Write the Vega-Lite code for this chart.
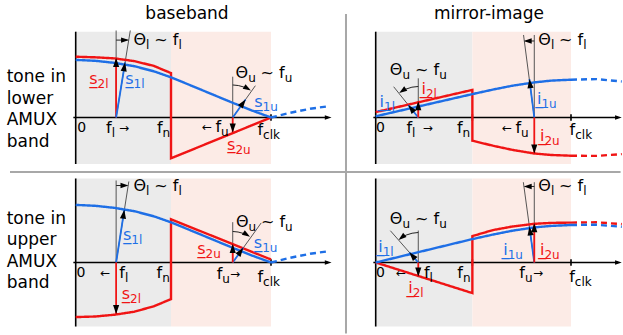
{
  "$schema": "https://vega.github.io/schema/vega-lite/v6.json",
  "autosize": {"type": "pad"},
  "padding": 0,
  "config": {"view": {"stroke": null}, "font": "DejaVu Sans"},
  "data": {"values": [
    {"r":"lo","c":"bb","k":"frame","x":-0.3876,"x2":2.8024,"y":1.9583,"y2":-3.625},

    {"r":"lo","c":"bb","k":"band","band":"low","x":0,"x2":0.488,"y":1.43,"y2":-0.775},
    {"r":"lo","c":"bb","k":"band","band":"high","x":0.488,"x2":1,"y":1.43,"y2":-0.775},
    {"r":"lo","c":"mi","k":"band","band":"low","x":0,"x2":0.495,"y":1.43,"y2":-0.775},
    {"r":"lo","c":"mi","k":"band","band":"high","x":0.495,"x2":1,"y":1.43,"y2":-0.775},
    {"r":"up","c":"bb","k":"band","band":"low","x":0,"x2":0.488,"y":1.4,"y2":-1.067},
    {"r":"up","c":"bb","k":"band","band":"high","x":0.488,"x2":1,"y":1.4,"y2":-1.067},
    {"r":"up","c":"mi","k":"band","band":"low","x":0,"x2":0.495,"y":1.4,"y2":-1.067},
    {"r":"up","c":"mi","k":"band","band":"high","x":0.495,"x2":1,"y":1.4,"y2":-1.067},

    {"r":"lo","c":"bb","k":"sep","x":-0.3364,"y":-0.908,"x2":2.79,"y2":-0.908},
    {"r":"lo","c":"bb","k":"sep","x":1.384,"y":1.725,"x2":1.384,"y2":-3.6},

    {"r":"lo","c":"bb","k":"axis","x":0,"y":1.43,"x2":0,"y2":-0.775},
    {"r":"lo","c":"bb","k":"axis","x":-0.012,"y":0,"x2":1.29,"y2":0},
    {"r":"lo","c":"bb","k":"axis","x":0.488,"y":0.055,"x2":0.488,"y2":-0.055},
    {"r":"lo","c":"bb","k":"axis","x":1,"y":0.055,"x2":1,"y2":-0.055},
    {"r":"lo","c":"mi","k":"axis","x":0,"y":1.43,"x2":0,"y2":-0.775},
    {"r":"lo","c":"mi","k":"axis","x":-0.012,"y":0,"x2":1.24,"y2":0},
    {"r":"lo","c":"mi","k":"axis","x":0.495,"y":0.055,"x2":0.495,"y2":-0.055},
    {"r":"lo","c":"mi","k":"axis","x":1,"y":0.055,"x2":1,"y2":-0.055},
    {"r":"up","c":"bb","k":"axis","x":0,"y":1.4,"x2":0,"y2":-1.067},
    {"r":"up","c":"bb","k":"axis","x":-0.012,"y":0,"x2":1.29,"y2":0},
    {"r":"up","c":"bb","k":"axis","x":0.488,"y":0.055,"x2":0.488,"y2":-0.055},
    {"r":"up","c":"bb","k":"axis","x":1,"y":0.055,"x2":1,"y2":-0.055},
    {"r":"up","c":"mi","k":"axis","x":0,"y":1.4,"x2":0,"y2":-1.067},
    {"r":"up","c":"mi","k":"axis","x":-0.012,"y":0,"x2":1.24,"y2":0},
    {"r":"up","c":"mi","k":"axis","x":0.495,"y":0.055,"x2":0.495,"y2":-0.055},
    {"r":"up","c":"mi","k":"axis","x":1,"y":0.055,"x2":1,"y2":-0.055},
    {"r":"lo","c":"bb","k":"head","h":"ax","x":1.31,"y":0,"bx":1.2,"by":0},
    {"r":"lo","c":"mi","k":"head","h":"ax","x":1.26,"y":0,"bx":1.15,"by":0},
    {"r":"up","c":"bb","k":"head","h":"ax","x":1.31,"y":0,"bx":1.2,"by":0},
    {"r":"up","c":"mi","k":"head","h":"ax","x":1.26,"y":0,"bx":1.15,"by":0},

    {"r":"lo","c":"bb","k":"curve","id":"s2","tone":"2","st":"solid","i":0,"x":0,"y":1.013},
    {"r":"lo","c":"bb","k":"curve","id":"s2","tone":"2","st":"solid","i":1,"x":0.1,"y":1.003},
    {"r":"lo","c":"bb","k":"curve","id":"s2","tone":"2","st":"solid","i":2,"x":0.2,"y":0.985},
    {"r":"lo","c":"bb","k":"curve","id":"s2","tone":"2","st":"solid","i":3,"x":0.3,"y":0.94},
    {"r":"lo","c":"bb","k":"curve","id":"s2","tone":"2","st":"solid","i":4,"x":0.4,"y":0.86},
    {"r":"lo","c":"bb","k":"curve","id":"s2","tone":"2","st":"solid","i":5,"x":0.488,"y":0.74},
    {"r":"lo","c":"bb","k":"curve","id":"s2","tone":"2","st":"solid","i":6,"x":0.488,"y":-0.68},
    {"r":"lo","c":"bb","k":"curve","id":"s2","tone":"2","st":"solid","i":7,"x":1,"y":0},
    {"r":"lo","c":"bb","k":"curve","id":"s1","tone":"1","st":"solid","i":0,"x":0,"y":0.96},
    {"r":"lo","c":"bb","k":"curve","id":"s1","tone":"1","st":"solid","i":1,"x":0.1,"y":0.945},
    {"r":"lo","c":"bb","k":"curve","id":"s1","tone":"1","st":"solid","i":2,"x":0.2,"y":0.91},
    {"r":"lo","c":"bb","k":"curve","id":"s1","tone":"1","st":"solid","i":3,"x":0.3,"y":0.855},
    {"r":"lo","c":"bb","k":"curve","id":"s1","tone":"1","st":"solid","i":4,"x":0.4,"y":0.77},
    {"r":"lo","c":"bb","k":"curve","id":"s1","tone":"1","st":"solid","i":5,"x":0.488,"y":0.67},
    {"r":"lo","c":"bb","k":"curve","id":"s1","tone":"1","st":"solid","i":6,"x":0.6,"y":0.52},
    {"r":"lo","c":"bb","k":"curve","id":"s1","tone":"1","st":"solid","i":7,"x":0.7,"y":0.385},
    {"r":"lo","c":"bb","k":"curve","id":"s1","tone":"1","st":"solid","i":8,"x":0.8,"y":0.25},
    {"r":"lo","c":"bb","k":"curve","id":"s1","tone":"1","st":"solid","i":9,"x":0.9,"y":0.12},
    {"r":"lo","c":"bb","k":"curve","id":"s1","tone":"1","st":"solid","i":10,"x":1,"y":0},
    {"r":"lo","c":"bb","k":"curve","id":"s1x","tone":"1","st":"dash","i":0,"x":1,"y":0},
    {"r":"lo","c":"bb","k":"curve","id":"s1x","tone":"1","st":"dash","i":1,"x":1.1,"y":0.08},
    {"r":"lo","c":"bb","k":"curve","id":"s1x","tone":"1","st":"dash","i":2,"x":1.2,"y":0.145},
    {"r":"lo","c":"bb","k":"curve","id":"s1x","tone":"1","st":"dash","i":3,"x":1.3,"y":0.19},

    {"r":"up","c":"bb","k":"curve","id":"s2","tone":"2","st":"solid","i":0,"x":0,"y":-0.91},
    {"r":"up","c":"bb","k":"curve","id":"s2","tone":"2","st":"solid","i":1,"x":0.1,"y":-0.9},
    {"r":"up","c":"bb","k":"curve","id":"s2","tone":"2","st":"solid","i":2,"x":0.2,"y":-0.87},
    {"r":"up","c":"bb","k":"curve","id":"s2","tone":"2","st":"solid","i":3,"x":0.3,"y":-0.82},
    {"r":"up","c":"bb","k":"curve","id":"s2","tone":"2","st":"solid","i":4,"x":0.4,"y":-0.73},
    {"r":"up","c":"bb","k":"curve","id":"s2","tone":"2","st":"solid","i":5,"x":0.488,"y":-0.61},
    {"r":"up","c":"bb","k":"curve","id":"s2","tone":"2","st":"solid","i":6,"x":0.488,"y":0.72},
    {"r":"up","c":"bb","k":"curve","id":"s2","tone":"2","st":"solid","i":7,"x":1,"y":0.05},
    {"r":"up","c":"bb","k":"curve","id":"s1","tone":"1","st":"solid","i":0,"x":0,"y":0.96},
    {"r":"up","c":"bb","k":"curve","id":"s1","tone":"1","st":"solid","i":1,"x":0.1,"y":0.945},
    {"r":"up","c":"bb","k":"curve","id":"s1","tone":"1","st":"solid","i":2,"x":0.2,"y":0.91},
    {"r":"up","c":"bb","k":"curve","id":"s1","tone":"1","st":"solid","i":3,"x":0.3,"y":0.855},
    {"r":"up","c":"bb","k":"curve","id":"s1","tone":"1","st":"solid","i":4,"x":0.4,"y":0.77},
    {"r":"up","c":"bb","k":"curve","id":"s1","tone":"1","st":"solid","i":5,"x":0.488,"y":0.67},
    {"r":"up","c":"bb","k":"curve","id":"s1","tone":"1","st":"solid","i":6,"x":0.6,"y":0.52},
    {"r":"up","c":"bb","k":"curve","id":"s1","tone":"1","st":"solid","i":7,"x":0.7,"y":0.385},
    {"r":"up","c":"bb","k":"curve","id":"s1","tone":"1","st":"solid","i":8,"x":0.8,"y":0.25},
    {"r":"up","c":"bb","k":"curve","id":"s1","tone":"1","st":"solid","i":9,"x":0.9,"y":0.12},
    {"r":"up","c":"bb","k":"curve","id":"s1","tone":"1","st":"solid","i":10,"x":1,"y":0},
    {"r":"up","c":"bb","k":"curve","id":"s1x","tone":"1","st":"dash","i":0,"x":1,"y":0},
    {"r":"up","c":"bb","k":"curve","id":"s1x","tone":"1","st":"dash","i":1,"x":1.1,"y":0.08},
    {"r":"up","c":"bb","k":"curve","id":"s1x","tone":"1","st":"dash","i":2,"x":1.2,"y":0.145},
    {"r":"up","c":"bb","k":"curve","id":"s1x","tone":"1","st":"dash","i":3,"x":1.3,"y":0.19},

    {"r":"lo","c":"mi","k":"curve","id":"i2","tone":"2","st":"solid","i":0,"x":0,"y":0.09},
    {"r":"lo","c":"mi","k":"curve","id":"i2","tone":"2","st":"solid","i":1,"x":0.495,"y":0.46},
    {"r":"lo","c":"mi","k":"curve","id":"i2","tone":"2","st":"solid","i":2,"x":0.495,"y":-0.387},
    {"r":"lo","c":"mi","k":"curve","id":"i2","tone":"2","st":"solid","i":3,"x":0.6,"y":-0.47},
    {"r":"lo","c":"mi","k":"curve","id":"i2","tone":"2","st":"solid","i":4,"x":0.7,"y":-0.54},
    {"r":"lo","c":"mi","k":"curve","id":"i2","tone":"2","st":"solid","i":5,"x":0.812,"y":-0.6},
    {"r":"lo","c":"mi","k":"curve","id":"i2","tone":"2","st":"solid","i":6,"x":0.9,"y":-0.625},
    {"r":"lo","c":"mi","k":"curve","id":"i2","tone":"2","st":"solid","i":7,"x":1,"y":-0.637},
    {"r":"lo","c":"mi","k":"curve","id":"i2x","tone":"2","st":"dash","i":0,"x":1,"y":-0.637},
    {"r":"lo","c":"mi","k":"curve","id":"i2x","tone":"2","st":"dash","i":1,"x":1.13,"y":-0.64},
    {"r":"lo","c":"mi","k":"curve","id":"i2x","tone":"2","st":"dash","i":2,"x":1.26,"y":-0.61},
    {"r":"lo","c":"mi","k":"curve","id":"i1","tone":"1","st":"solid","i":0,"x":0,"y":0.02},
    {"r":"lo","c":"mi","k":"curve","id":"i1","tone":"1","st":"solid","i":1,"x":0.495,"y":0.39},
    {"r":"lo","c":"mi","k":"curve","id":"i1","tone":"1","st":"solid","i":2,"x":0.6,"y":0.465},
    {"r":"lo","c":"mi","k":"curve","id":"i1","tone":"1","st":"solid","i":3,"x":0.7,"y":0.53},
    {"r":"lo","c":"mi","k":"curve","id":"i1","tone":"1","st":"solid","i":4,"x":0.812,"y":0.585},
    {"r":"lo","c":"mi","k":"curve","id":"i1","tone":"1","st":"solid","i":5,"x":0.9,"y":0.615},
    {"r":"lo","c":"mi","k":"curve","id":"i1","tone":"1","st":"solid","i":6,"x":1,"y":0.63},
    {"r":"lo","c":"mi","k":"curve","id":"i1x","tone":"1","st":"dash","i":0,"x":1,"y":0.63},
    {"r":"lo","c":"mi","k":"curve","id":"i1x","tone":"1","st":"dash","i":1,"x":1.13,"y":0.64},
    {"r":"lo","c":"mi","k":"curve","id":"i1x","tone":"1","st":"dash","i":2,"x":1.26,"y":0.6},

    {"r":"up","c":"mi","k":"curve","id":"i2","tone":"2","st":"solid","i":0,"x":0,"y":0},
    {"r":"up","c":"mi","k":"curve","id":"i2","tone":"2","st":"solid","i":1,"x":0.495,"y":-0.51},
    {"r":"up","c":"mi","k":"curve","id":"i2","tone":"2","st":"solid","i":2,"x":0.495,"y":0.44},
    {"r":"up","c":"mi","k":"curve","id":"i2","tone":"2","st":"solid","i":3,"x":0.6,"y":0.54},
    {"r":"up","c":"mi","k":"curve","id":"i2","tone":"2","st":"solid","i":4,"x":0.7,"y":0.6},
    {"r":"up","c":"mi","k":"curve","id":"i2","tone":"2","st":"solid","i":5,"x":0.812,"y":0.645},
    {"r":"up","c":"mi","k":"curve","id":"i2","tone":"2","st":"solid","i":6,"x":0.9,"y":0.66},
    {"r":"up","c":"mi","k":"curve","id":"i2","tone":"2","st":"solid","i":7,"x":1,"y":0.665},
    {"r":"up","c":"mi","k":"curve","id":"i2x","tone":"2","st":"dash","i":0,"x":1,"y":0.665},
    {"r":"up","c":"mi","k":"curve","id":"i2x","tone":"2","st":"dash","i":1,"x":1.13,"y":0.67},
    {"r":"up","c":"mi","k":"curve","id":"i2x","tone":"2","st":"dash","i":2,"x":1.26,"y":0.64},
    {"r":"up","c":"mi","k":"curve","id":"i1","tone":"1","st":"solid","i":0,"x":0,"y":0},
    {"r":"up","c":"mi","k":"curve","id":"i1","tone":"1","st":"solid","i":1,"x":0.495,"y":0.39},
    {"r":"up","c":"mi","k":"curve","id":"i1","tone":"1","st":"solid","i":2,"x":0.6,"y":0.465},
    {"r":"up","c":"mi","k":"curve","id":"i1","tone":"1","st":"solid","i":3,"x":0.7,"y":0.53},
    {"r":"up","c":"mi","k":"curve","id":"i1","tone":"1","st":"solid","i":4,"x":0.812,"y":0.585},
    {"r":"up","c":"mi","k":"curve","id":"i1","tone":"1","st":"solid","i":5,"x":0.9,"y":0.61},
    {"r":"up","c":"mi","k":"curve","id":"i1","tone":"1","st":"solid","i":6,"x":1,"y":0.625},
    {"r":"up","c":"mi","k":"curve","id":"i1x","tone":"1","st":"dash","i":0,"x":1,"y":0.625},
    {"r":"up","c":"mi","k":"curve","id":"i1x","tone":"1","st":"dash","i":1,"x":1.13,"y":0.63},
    {"r":"up","c":"mi","k":"curve","id":"i1x","tone":"1","st":"dash","i":2,"x":1.26,"y":0.595},

    {"r":"lo","c":"bb","k":"ref","x":0.207,"y":0,"x2":0.207,"y2":1.45},
    {"r":"lo","c":"bb","k":"ref","x":0.207,"y":0,"x2":0.2795,"y2":1.45},
    {"r":"lo","c":"bb","k":"ref","x":0.804,"y":0,"x2":0.804,"y2":0.68},
    {"r":"lo","c":"bb","k":"ref","x":0.804,"y":0,"x2":0.92,"y2":0.53},
    {"r":"lo","c":"mi","k":"ref","x":0.218,"y":0,"x2":0.218,"y2":0.653},
    {"r":"lo","c":"mi","k":"ref","x":0.218,"y":0,"x2":0.092,"y2":0.513},
    {"r":"lo","c":"mi","k":"ref","x":0.812,"y":0,"x2":0.812,"y2":1.375},
    {"r":"lo","c":"mi","k":"ref","x":0.812,"y":0,"x2":0.757,"y2":1.375},
    {"r":"up","c":"bb","k":"ref","x":0.207,"y":0,"x2":0.207,"y2":1.367},
    {"r":"up","c":"bb","k":"ref","x":0.207,"y":0,"x2":0.272,"y2":1.35},
    {"r":"up","c":"bb","k":"ref","x":0.804,"y":0,"x2":0.804,"y2":0.672},
    {"r":"up","c":"bb","k":"ref","x":0.804,"y":0,"x2":0.95,"y2":0.66},
    {"r":"up","c":"mi","k":"ref","x":0.218,"y":0,"x2":0.218,"y2":0.533},
    {"r":"up","c":"mi","k":"ref","x":0.218,"y":0,"x2":0.075,"y2":0.53},
    {"r":"up","c":"mi","k":"ref","x":0.812,"y":0,"x2":0.812,"y2":1.338},
    {"r":"up","c":"mi","k":"ref","x":0.812,"y":0,"x2":0.756,"y2":1.338},

    {"r":"lo","c":"bb","k":"arc","id":"al","i":0,"x":0.207,"y":1.29},
    {"r":"lo","c":"bb","k":"arc","id":"al","i":1,"x":0.265,"y":1.29},
    {"r":"lo","c":"bb","k":"head","h":"arc","x":0.273,"y":1.29,"bx":0.207,"by":1.29},
    {"r":"lo","c":"bb","k":"arc","id":"au","i":0,"x":0.804,"y":0.542},
    {"r":"lo","c":"bb","k":"arc","id":"au","i":1,"x":0.8326,"y":0.533},
    {"r":"lo","c":"bb","k":"arc","id":"au","i":2,"x":0.861,"y":0.508},
    {"r":"lo","c":"bb","k":"arc","id":"au","i":3,"x":0.882,"y":0.478},
    {"r":"lo","c":"bb","k":"head","h":"arc","x":0.897,"y":0.448,"bx":0.882,"by":0.478},
    {"r":"lo","c":"mi","k":"arc","id":"au","i":0,"x":0.218,"y":0.517},
    {"r":"lo","c":"mi","k":"arc","id":"au","i":1,"x":0.1854,"y":0.505},
    {"r":"lo","c":"mi","k":"arc","id":"au","i":2,"x":0.1536,"y":0.472},
    {"r":"lo","c":"mi","k":"arc","id":"au","i":3,"x":0.1342,"y":0.438},
    {"r":"lo","c":"mi","k":"head","h":"arc","x":0.1203,"y":0.407,"bx":0.1342,"by":0.438},
    {"r":"lo","c":"mi","k":"arc","id":"al","i":0,"x":0.812,"y":1.275},
    {"r":"lo","c":"mi","k":"arc","id":"al","i":1,"x":0.767,"y":1.275},
    {"r":"lo","c":"mi","k":"head","h":"arc","x":0.758,"y":1.275,"bx":0.812,"by":1.275},
    {"r":"up","c":"bb","k":"arc","id":"al","i":0,"x":0.207,"y":1.283},
    {"r":"up","c":"bb","k":"arc","id":"al","i":1,"x":0.262,"y":1.283},
    {"r":"up","c":"bb","k":"head","h":"arc","x":0.27,"y":1.283,"bx":0.207,"by":1.283},
    {"r":"up","c":"bb","k":"arc","id":"au","i":0,"x":0.804,"y":0.517},
    {"r":"up","c":"bb","k":"arc","id":"au","i":1,"x":0.8315,"y":0.508},
    {"r":"up","c":"bb","k":"arc","id":"au","i":2,"x":0.858,"y":0.485},
    {"r":"up","c":"bb","k":"arc","id":"au","i":3,"x":0.8787,"y":0.457},
    {"r":"up","c":"bb","k":"head","h":"arc","x":0.8925,"y":0.428,"bx":0.8787,"by":0.457},
    {"r":"up","c":"mi","k":"arc","id":"au","i":0,"x":0.218,"y":0.5},
    {"r":"up","c":"mi","k":"arc","id":"au","i":1,"x":0.1864,"y":0.488},
    {"r":"up","c":"mi","k":"arc","id":"au","i":2,"x":0.1557,"y":0.457},
    {"r":"up","c":"mi","k":"arc","id":"au","i":3,"x":0.132,"y":0.415},
    {"r":"up","c":"mi","k":"head","h":"arc","x":0.1172,"y":0.377,"bx":0.132,"by":0.415},
    {"r":"up","c":"mi","k":"arc","id":"al","i":0,"x":0.812,"y":1.267},
    {"r":"up","c":"mi","k":"arc","id":"al","i":1,"x":0.768,"y":1.267},
    {"r":"up","c":"mi","k":"head","h":"arc","x":0.758,"y":1.267,"bx":0.812,"by":1.267},

    {"r":"lo","c":"bb","k":"ph","tone":"2","x":0.207,"y":0,"x2":0.207,"y2":0.99},
    {"r":"lo","c":"bb","k":"ph","tone":"1","x":0.207,"y":0,"x2":0.253,"y2":0.92},
    {"r":"lo","c":"bb","k":"ph","tone":"1","x":0.804,"y":0,"x2":0.87,"y2":0.3},
    {"r":"lo","c":"bb","k":"ph","tone":"2","x":0.804,"y":0,"x2":0.804,"y2":-0.25},
    {"r":"lo","c":"bb","k":"head","h":"ph","x":0.207,"y":0.99,"bx":0.207,"by":0},
    {"r":"lo","c":"bb","k":"head","h":"ph","x":0.253,"y":0.92,"bx":0.207,"by":0},
    {"r":"lo","c":"bb","k":"head","h":"ph","x":0.87,"y":0.3,"bx":0.804,"by":0},
    {"r":"lo","c":"bb","k":"head","h":"ph","x":0.804,"y":-0.25,"bx":0.804,"by":0},
    {"r":"lo","c":"mi","k":"ph","tone":"1","x":0.218,"y":0,"x2":0.167,"y2":0.208},
    {"r":"lo","c":"mi","k":"ph","tone":"2","x":0.218,"y":0,"x2":0.218,"y2":0.27},
    {"r":"lo","c":"mi","k":"ph","tone":"1","x":0.812,"y":0,"x2":0.787,"y2":0.64},
    {"r":"lo","c":"mi","k":"ph","tone":"2","x":0.812,"y":0,"x2":0.812,"y2":-0.6},
    {"r":"lo","c":"mi","k":"head","h":"ph","x":0.167,"y":0.208,"bx":0.218,"by":0},
    {"r":"lo","c":"mi","k":"head","h":"ph","x":0.218,"y":0.27,"bx":0.218,"by":0},
    {"r":"lo","c":"mi","k":"head","h":"ph","x":0.787,"y":0.64,"bx":0.812,"by":0},
    {"r":"lo","c":"mi","k":"head","h":"ph","x":0.812,"y":-0.6,"bx":0.812,"by":0},
    {"r":"up","c":"bb","k":"ph","tone":"1","x":0.207,"y":0,"x2":0.249,"y2":0.88},
    {"r":"up","c":"bb","k":"ph","tone":"2","x":0.207,"y":0,"x2":0.207,"y2":-0.86},
    {"r":"up","c":"bb","k":"ph","tone":"1","x":0.804,"y":0,"x2":0.858,"y2":0.245},
    {"r":"up","c":"bb","k":"ph","tone":"2","x":0.804,"y":0,"x2":0.804,"y2":0.31},
    {"r":"up","c":"bb","k":"head","h":"ph","x":0.249,"y":0.88,"bx":0.207,"by":0},
    {"r":"up","c":"bb","k":"head","h":"ph","x":0.207,"y":-0.86,"bx":0.207,"by":0},
    {"r":"up","c":"bb","k":"head","h":"ph","x":0.858,"y":0.245,"bx":0.804,"by":0},
    {"r":"up","c":"bb","k":"head","h":"ph","x":0.804,"y":0.31,"bx":0.804,"by":0},
    {"r":"up","c":"mi","k":"ph","tone":"1","x":0.218,"y":0,"x2":0.172,"y2":0.17},
    {"r":"up","c":"mi","k":"ph","tone":"2","x":0.218,"y":0,"x2":0.218,"y2":-0.235},
    {"r":"up","c":"mi","k":"ph","tone":"1","x":0.812,"y":0,"x2":0.787,"y2":0.6},
    {"r":"up","c":"mi","k":"ph","tone":"2","x":0.812,"y":0,"x2":0.812,"y2":0.655},
    {"r":"up","c":"mi","k":"head","h":"ph","x":0.172,"y":0.17,"bx":0.218,"by":0},
    {"r":"up","c":"mi","k":"head","h":"ph","x":0.218,"y":-0.235,"bx":0.218,"by":0},
    {"r":"up","c":"mi","k":"head","h":"ph","x":0.787,"y":0.6,"bx":0.812,"by":0},
    {"r":"up","c":"mi","k":"head","h":"ph","x":0.812,"y":0.655,"bx":0.812,"by":0},

    {"r":"lo","c":"bb","k":"lbl","tone":"2","t":"s\u0332","s":"2l","x":0.112,"y":0.64},
    {"r":"lo","c":"bb","k":"lbl","tone":"1","t":"s\u0332","s":"1l","x":0.296,"y":0.64},
    {"r":"lo","c":"bb","k":"lbl","tone":"1","t":"s\u0332","s":"1u","x":0.9565,"y":0.258},
    {"r":"lo","c":"bb","k":"lbl","tone":"2","t":"s\u0332","s":"2u","x":0.818,"y":-0.45},
    {"r":"lo","c":"bb","k":"lbl","tone":"0","t":"\u0398","s":"l","x":0.3605,"y":1.292},
    {"r":"lo","c":"bb","k":"lbl","tone":"0","t":"~ f","s":"l","x":0.526,"y":1.292},
    {"r":"lo","c":"bb","k":"lbl","tone":"0","t":"\u0398","s":"u","x":0.883,"y":0.737},
    {"r":"lo","c":"bb","k":"lbl","tone":"0","t":"~ f","s":"u","x":1.07,"y":0.737},
    {"r":"lo","c":"bb","k":"lbl","tone":"0","t":"f","s":"l","x":0.184,"y":-0.175},
    {"r":"lo","c":"bb","k":"lbl","tone":"0","t":"f","s":"n","x":0.445,"y":-0.175},
    {"r":"lo","c":"bb","k":"lbl","tone":"0","t":"f","s":"u","x":0.7445,"y":-0.165},
    {"r":"lo","c":"bb","k":"lbl","tone":"0","t":"f","s":"clk","x":0.9596,"y":-0.208},
    {"r":"lo","c":"bb","k":"arr","t":"\u2192","x":0.273,"y":-0.175},
    {"r":"lo","c":"bb","k":"arr","t":"\u2190","x":0.698,"y":-0.165},
    {"r":"lo","c":"bb","k":"zero","t":"0","x":0.053,"y":-0.175},

    {"r":"lo","c":"mi","k":"lbl","tone":"1","t":"i\u0332","s":"1l","x":0.0425,"y":0.258},
    {"r":"lo","c":"mi","k":"lbl","tone":"2","t":"i\u0332","s":"2l","x":0.2575,"y":0.475},
    {"r":"lo","c":"mi","k":"lbl","tone":"1","t":"i\u0332","s":"1u","x":0.8485,"y":0.308},
    {"r":"lo","c":"mi","k":"lbl","tone":"2","t":"i\u0332","s":"2u","x":0.8638,"y":-0.308},
    {"r":"lo","c":"mi","k":"lbl","tone":"0","t":"\u0398","s":"u","x":0.1367,"y":0.79},
    {"r":"lo","c":"mi","k":"lbl","tone":"0","t":"~ f","s":"u","x":0.3251,"y":0.79},
    {"r":"lo","c":"mi","k":"lbl","tone":"0","t":"\u0398","s":"l","x":0.897,"y":1.292},
    {"r":"lo","c":"mi","k":"lbl","tone":"0","t":"~ f","s":"l","x":1.0625,"y":1.292},
    {"r":"lo","c":"mi","k":"lbl","tone":"0","t":"f","s":"l","x":0.1864,"y":-0.175},
    {"r":"lo","c":"mi","k":"lbl","tone":"0","t":"f","s":"n","x":0.445,"y":-0.175},
    {"r":"lo","c":"mi","k":"lbl","tone":"0","t":"f","s":"u","x":0.7445,"y":-0.175},
    {"r":"lo","c":"mi","k":"lbl","tone":"0","t":"f","s":"clk","x":1.0215,"y":-0.208},
    {"r":"lo","c":"mi","k":"arr","t":"\u2192","x":0.293,"y":-0.175},
    {"r":"lo","c":"mi","k":"arr","t":"\u2190","x":0.6979,"y":-0.175},
    {"r":"lo","c":"mi","k":"zero","t":"0","x":0.0476,"y":-0.175},

    {"r":"up","c":"bb","k":"lbl","tone":"1","t":"s\u0332","s":"1l","x":0.285,"y":0.46},
    {"r":"up","c":"bb","k":"lbl","tone":"2","t":"s\u0332","s":"2l","x":0.278,"y":-0.52},
    {"r":"up","c":"bb","k":"lbl","tone":"2","t":"s\u0332","s":"2u","x":0.665,"y":0.233},
    {"r":"up","c":"bb","k":"lbl","tone":"1","t":"s\u0332","s":"1u","x":0.955,"y":0.317},
    {"r":"up","c":"bb","k":"lbl","tone":"0","t":"\u0398","s":"l","x":0.3605,"y":1.267},
    {"r":"up","c":"bb","k":"lbl","tone":"0","t":"~ f","s":"l","x":0.526,"y":1.267},
    {"r":"up","c":"bb","k":"lbl","tone":"0","t":"\u0398","s":"u","x":0.885,"y":0.672},
    {"r":"up","c":"bb","k":"lbl","tone":"0","t":"~ f","s":"u","x":1.072,"y":0.672},
    {"r":"up","c":"bb","k":"lbl","tone":"0","t":"f","s":"l","x":0.252,"y":-0.17},
    {"r":"up","c":"bb","k":"lbl","tone":"0","t":"f","s":"n","x":0.443,"y":-0.18},
    {"r":"up","c":"bb","k":"lbl","tone":"0","t":"f","s":"u","x":0.7506,"y":-0.188},
    {"r":"up","c":"bb","k":"lbl","tone":"0","t":"f","s":"clk","x":0.9596,"y":-0.25},
    {"r":"up","c":"bb","k":"arr","t":"\u2190","x":0.177,"y":-0.17},
    {"r":"up","c":"bb","k":"arr","t":"\u2192","x":0.841,"y":-0.188},
    {"r":"up","c":"bb","k":"zero","t":"0","x":0.05,"y":-0.17},

    {"r":"up","c":"mi","k":"lbl","tone":"1","t":"i\u0332","s":"1l","x":0.0358,"y":0.25},
    {"r":"up","c":"mi","k":"lbl","tone":"2","t":"i\u0332","s":"2l","x":0.1895,"y":-0.422},
    {"r":"up","c":"mi","k":"lbl","tone":"1","t":"i\u0332","s":"1u","x":0.676,"y":0.2},
    {"r":"up","c":"mi","k":"lbl","tone":"2","t":"i\u0332","s":"2u","x":0.8638,"y":0.2},
    {"r":"up","c":"mi","k":"lbl","tone":"0","t":"\u0398","s":"u","x":0.1367,"y":0.728},
    {"r":"up","c":"mi","k":"lbl","tone":"0","t":"~ f","s":"u","x":0.3251,"y":0.728},
    {"r":"up","c":"mi","k":"lbl","tone":"0","t":"\u0398","s":"l","x":0.897,"y":1.283},
    {"r":"up","c":"mi","k":"lbl","tone":"0","t":"~ f","s":"l","x":1.0625,"y":1.283},
    {"r":"up","c":"mi","k":"lbl","tone":"0","t":"f","s":"l","x":0.276,"y":-0.178},
    {"r":"up","c":"mi","k":"lbl","tone":"0","t":"f","s":"n","x":0.447,"y":-0.178},
    {"r":"up","c":"mi","k":"lbl","tone":"0","t":"f","s":"u","x":0.764,"y":-0.178},
    {"r":"up","c":"mi","k":"lbl","tone":"0","t":"f","s":"clk","x":1.0195,"y":-0.25},
    {"r":"up","c":"mi","k":"arr","t":"\u2190","x":0.155,"y":-0.178},
    {"r":"up","c":"mi","k":"arr","t":"\u2192","x":0.857,"y":-0.178},
    {"r":"up","c":"mi","k":"zero","t":"0","x":0.0476,"y":-0.178},

    {"r":"lo","c":"bb","k":"title","t":"baseband","x":0.57,"y":1.72},
    {"r":"lo","c":"mi","k":"title","t":"mirror-image","x":0.58,"y":1.72},
    {"r":"lo","c":"bb","k":"rowlab","t":"tone in\nlower\nAMUX\nband","x":-0.3533,"y":0.67},
    {"r":"up","c":"bb","k":"rowlab","t":"tone in\nupper\nAMUX\nband","x":-0.3533,"y":0.733}
  ]},
  "facet": {
    "row": {"field": "r", "type": "nominal", "title": null, "header": {"labels": false, "title": null}},
    "column": {"field": "c", "type": "nominal", "title": null, "header": {"labels": false, "title": null}}
  },
  "spacing": {"row": 0, "column": 0},
  "bounds": "flush",
  "spec": {
    "width": 300,
    "height": 144.5,
    "encoding": {
      "x": {"field": "x", "type": "quantitative", "axis": null, "scale": {"domain": [-0.3876, 1.1485], "nice": false, "zero": false}},
      "y": {"field": "y", "type": "quantitative", "axis": null, "scale": {"domain": [-0.45, 1.9583], "nice": false, "zero": false}}
    },
    "layer": [
      {"transform": [{"filter": "datum.k == 'frame'"}],
       "mark": {"type": "rect", "fill": "#ffffff"},
       "encoding": {"x2": {"field": "x2"}, "y2": {"field": "y2"}}},
      {"transform": [{"filter": "datum.k == 'band' && datum.band == 'low'"}],
       "mark": {"type": "rect", "fill": "#ebebeb"},
       "encoding": {"x2": {"field": "x2"}, "y2": {"field": "y2"}}},
      {"transform": [{"filter": "datum.k == 'band' && datum.band == 'high'"}],
       "mark": {"type": "rect", "fill": "#fcebe6"},
       "encoding": {"x2": {"field": "x2"}, "y2": {"field": "y2"}}},
      {"transform": [{"filter": "datum.k == 'sep'"}],
       "mark": {"type": "rule", "stroke": "#a8a8a8", "strokeWidth": 2},
       "encoding": {"x2": {"field": "x2"}, "y2": {"field": "y2"}}},
      {"transform": [{"filter": "datum.k == 'ref'"}],
       "mark": {"type": "rule", "stroke": "#444444", "strokeWidth": 0.9},
       "encoding": {"x2": {"field": "x2"}, "y2": {"field": "y2"}}},
      {"transform": [{"filter": "datum.k == 'arc'"}],
       "mark": {"type": "line", "stroke": "#222222", "strokeWidth": 1},
       "encoding": {"detail": {"field": "id"}, "order": {"field": "i", "type": "quantitative"}}},
      {"transform": [{"filter": "datum.k == 'axis'"}],
       "mark": {"type": "rule", "stroke": "#000000", "strokeWidth": 1.6},
       "encoding": {"x2": {"field": "x2"}, "y2": {"field": "y2"}}},
      {"transform": [{"filter": "datum.k == 'curve'"}],
       "mark": {"type": "line", "strokeWidth": 2.4},
       "encoding": {
         "color": {"field": "tone", "type": "nominal", "legend": null, "scale": {"domain": ["1", "2", "0"], "range": ["#1e6fe6", "#f01414", "#000000"]}},
         "strokeDash": {"field": "st", "type": "nominal", "legend": null, "scale": {"domain": ["solid", "dash"], "range": [[1, 0], [6, 4]]}},
         "detail": {"field": "id"},
         "order": {"field": "i", "type": "quantitative"}}},
      {"transform": [{"filter": "datum.k == 'ph'"}],
       "mark": {"type": "rule", "strokeWidth": 1.8},
       "encoding": {"x2": {"field": "x2"}, "y2": {"field": "y2"},
         "color": {"field": "tone", "type": "nominal", "legend": null}}},
      {"transform": [{"filter": "datum.k == 'head'"},
                     {"calculate": "atan2((datum.x - datum.bx) * 195.3, (datum.y - datum.by) * 60) * 180 / PI", "as": "ang"}],
       "mark": {"type": "point", "filled": true, "color": "#000000", "opacity": 1, "strokeWidth": 0, "shape": "M0,0L-0.65,1.9L0.65,1.9Z"},
       "encoding": {
         "angle": {"field": "ang", "type": "quantitative", "scale": null},
         "size": {"field": "h", "type": "ordinal", "legend": null, "scale": {"domain": ["ph", "arc", "ax"], "range": [90, 50, 140]}}}},
      {"transform": [{"filter": "datum.k == 'lbl'"}],
       "mark": {"type": "text", "align": "right", "baseline": "middle", "fontSize": 16, "font": "DejaVu Sans"},
       "encoding": {"text": {"field": "t"}, "color": {"field": "tone", "type": "nominal", "legend": null}}},
      {"transform": [{"filter": "datum.k == 'lbl'"}],
       "mark": {"type": "text", "align": "left", "baseline": "middle", "dy": 5, "fontSize": 12, "font": "DejaVu Sans"},
       "encoding": {"text": {"field": "s"}, "color": {"field": "tone", "type": "nominal", "legend": null}}},
      {"transform": [{"filter": "datum.k == 'arr'"}],
       "mark": {"type": "text", "align": "right", "baseline": "middle", "fontSize": 12, "font": "DejaVu Sans", "color": "#000000"},
       "encoding": {"text": {"field": "t"}}},
      {"transform": [{"filter": "datum.k == 'zero'"}],
       "mark": {"type": "text", "align": "right", "baseline": "middle", "fontSize": 14, "font": "DejaVu Sans", "color": "#000000"},
       "encoding": {"text": {"field": "t"}}},
      {"transform": [{"filter": "datum.k == 'title'"}],
       "mark": {"type": "text", "align": "center", "baseline": "middle", "fontSize": 17, "font": "DejaVu Sans", "color": "#000000"},
       "encoding": {"text": {"field": "t"}}},
      {"transform": [{"filter": "datum.k == 'rowlab'"}],
       "mark": {"type": "text", "align": "left", "baseline": "middle", "fontSize": 17, "font": "DejaVu Sans", "color": "#000000", "lineBreak": "\n", "lineHeight": 21.5},
       "encoding": {"text": {"field": "t"}}}
    ]
  }
}
